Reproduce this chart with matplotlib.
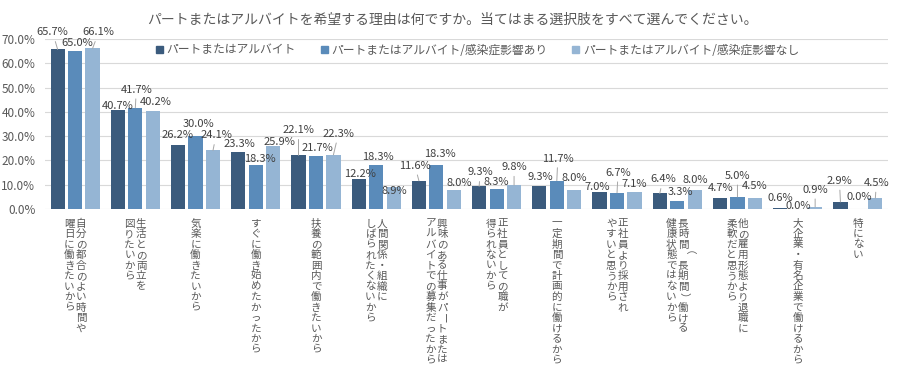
import matplotlib
matplotlib.use("Agg")
import matplotlib.pyplot as plt
from matplotlib.patches import Patch
from matplotlib.transforms import offset_copy
import numpy as np

plt.rcParams['font.family'] = ['Noto Sans CJK JP', 'DejaVu Sans']

title = "パートまたはアルバイトを希望する理由は何ですか。当てはまる選択肢をすべて選んでください。"
series_names = ["パートまたはアルバイト",
                "パートまたはアルバイト/感染症影響あり",
                "パートまたはアルバイト/感染症影響なし"]
categories = [
    "自分の都合のよい時間や\n曜日に働きたいから",
    "生活との両立を\n図りたいから",
    "気楽に働きたいから",
    "すぐに働き始めたかったから",
    "扶養の範囲内で働きたいから",
    "人間関係・組織に\nしばられたくないから",
    "興味のある仕事がパートまたは\nアルバイトでの募集だったから",
    "正社員としての職が\n得られないから",
    "一定期間で計画的に働けるから",
    "正社員より採用され\nやすいと思うから",
    "長時間（長期間）働ける\n健康状態ではないから",
    "他の雇用形態より退職に\n柔軟だと思うから",
    "大企業・有名企業で働けるから",
    "特にない",
]
v_all = [65.7, 40.7, 26.2, 23.3, 22.1, 12.2, 11.6, 9.3, 9.3, 7.0, 6.4, 4.7, 0.6, 2.9]
v_yes = [65.0, 41.7, 30.0, 18.3, 21.7, 18.3, 18.3, 8.3, 11.7, 6.7, 3.3, 5.0, 0.0, 0.0]
v_no = [66.1, 40.2, 24.1, 25.9, 22.3, 8.9, 8.0, 9.8, 8.0, 7.1, 8.0, 4.5, 0.9, 4.5]
yticks = [0, 10, 20, 30, 40, 50, 60, 70]

# styling
colors = ['#3b5b7d', '#5a8bba', '#95b5d4']
# label placement offsets in pixels (dx, dy above bar top)
label_dx = [
    [-5, 0, -1, 1, 0, 1, -4, 1, 1, -2, 3, 1, 0, -1],
    [2, 1, 3, 4, 1, 2, 3, 0, 1, 1, 3, 0, 1, 1],
    [6, 3, 3, 6, 5, 1, 5, 0, 0, 0, 1, 0, 0, 1],
]
label_dy = [
    [17, 4, 10, 8, 25, 5, 15, 14, 9, 5, 14, 10, 10, 21],
    [8, 18, 12, 6, 8, 8, 11, 7, 22, 20, 9, 21, 3, 12],
    [16, 9, 15, 4, 21, -4, 7, 18, 12, 8, 10, 12, 17, 15],
]

fig = plt.figure(figsize=(9.04, 3.69), dpi=100)
ax = fig.add_axes([45/904, 1-209/369, 843/904, 170/369])

x = np.arange(len(categories))
off = 0.29
w = 0.235
data = [v_all, v_yes, v_no]
for s, vals in enumerate(data):
    xs = x + (s - 1) * off
    ax.bar(xs, vals, width=w, color=colors[s], zorder=3)
    for i, v in enumerate(vals):
        dy = label_dy[s][i]
        dx = label_dx[s][i]
        kw = {}
        if dy >= 14:
            kw['arrowprops'] = dict(arrowstyle='-', color='#a6a6a6', lw=0.7,
                                    shrinkA=1, shrinkB=0)
        ax.annotate(f"{v:.1f}%", xy=(xs[i], v), xytext=(dx, dy),
                    textcoords='offset pixels', ha='center', va='center',
                    fontsize=8, color='#404040', zorder=5, **kw)

ax.set_xlim(-0.5, len(categories) - 0.5)
ax.set_ylim(0, 70)
ax.set_yticks(yticks)
ax.set_yticklabels([f"{t:.1f}%" for t in yticks], fontsize=8.5, color='#595959')
ax.tick_params(axis='y', length=0, pad=7)
ax.set_xticks([])
ax.grid(axis='y', color='#d9d9d9', lw=0.8, zorder=0)
for sp in ax.spines.values():
    sp.set_visible(False)

# vertical category labels
rot_chars = set("ー（）")
base = ax.get_xaxis_transform()
pitch = 10.5
col_gap = 11.7
for i, cat in enumerate(categories):
    lines = cat.split("\n")
    n = len(lines)
    for j, line in enumerate(lines):
        cx = ((n - 1) / 2 - j) * col_gap
        for k, ch in enumerate(line):
            cy = -(9 + 5.5 + k * pitch)
            tr = offset_copy(base, fig=fig, x=cx, y=cy, units='dots')
            ax.text(i, 0, ch, transform=tr, ha='center', va='center',
                    fontsize=7.6, color='#595959',
                    rotation=270 if ch in rot_chars else 0, clip_on=False)

fig.text(0.5, 1 - 20/369, title, ha='center', va='center', fontsize=10,
         color='#595959')

handles = [Patch(color=c) for c in colors]
fig.legend(handles, series_names, loc='center left',
           bbox_to_anchor=(150/904, 1 - 50/369), ncol=3, frameon=False,
           fontsize=8.5, handlelength=0.6, handleheight=0.6,
           handletextpad=0.3, columnspacing=2.1, borderpad=0,
           labelcolor='#595959')

fig.savefig("out.png", dpi=100)
